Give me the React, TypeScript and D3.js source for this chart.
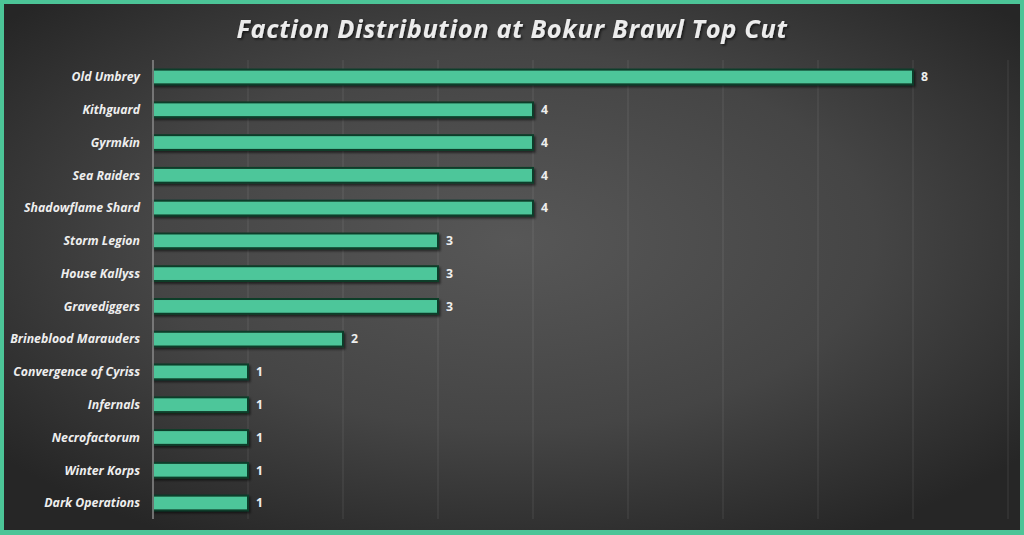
import React from "react";
import * as d3 from "d3";

const categories = [
  "Old Umbrey",
  "Kithguard",
  "Gyrmkin",
  "Sea Raiders",
  "Shadowflame Shard",
  "Storm Legion",
  "House Kallyss",
  "Gravediggers",
  "Brineblood Marauders",
  "Convergence of Cyriss",
  "Infernals",
  "Necrofactorum",
  "Winter Korps",
  "Dark Operations",
];
const counts = [8, 4, 4, 4, 4, 3, 3, 3, 2, 1, 1, 1, 1, 1];
const gridTicks = [0, 1, 2, 3, 4, 5, 6, 7, 8, 9];
const title = "Faction Distribution at Bokur Brawl Top Cut";

const W = 1024;
const H = 535;

export default function App() {
  const x = d3.scaleLinear().domain([0, 9]).range([153, 1008]);
  const y = d3
    .scaleBand<string>()
    .domain(categories)
    .range([60.6, 519.4])
    .paddingInner(0.55)
    .paddingOuter(0.275);
  const bh = y.bandwidth();
  return (
    <svg
      width={W}
      height={H}
      style={{ position: "absolute", left: 0, top: 0, display: "block" }}
      fontFamily="'Open Sans', 'Noto Sans', sans-serif"
    >
      <defs>
        <radialGradient id="bg" cx="50%" cy="45%" r="65%">
          <stop offset="0%" stopColor="#575757" />
          <stop offset="55%" stopColor="#454545" />
          <stop offset="100%" stopColor="#262626" />
        </radialGradient>
        <filter id="sh" x="-10%" y="-50%" width="120%" height="200%">
          <feDropShadow dx="1.5" dy="2" stdDeviation="1.2" floodColor="#000" floodOpacity="0.55" />
        </filter>
        <filter id="tsh" x="-10%" y="-50%" width="120%" height="200%">
          <feDropShadow dx="1.5" dy="1.5" stdDeviation="1" floodColor="#000" floodOpacity="0.6" />
        </filter>
      </defs>
      <rect x={0} y={0} width={W} height={H} fill="#4cc497" />
      <rect x={4} y={4} width={W - 8} height={H - 9} fill="url(#bg)" />
      <text
        x={512}
        y={38}
        textAnchor="middle"
        fontSize={25.3}
        fontWeight={700}
        fontStyle="italic"
        fill="#ececec"
        letterSpacing={0.7}
        filter="url(#tsh)"
      >
        {title}
      </text>
      {gridTicks.slice(1).map((t) => (
        <line key={t} x1={x(t)} x2={x(t)} y1={60} y2={519} stroke="#ffffff" strokeOpacity={0.1} strokeWidth={1} />
      ))}
      {categories.map((c, i) => {
        const y0 = y(c)!;
        const v = counts[i];
        return (
          <g key={c}>
            <rect
              x={x(0)}
              y={y0}
              width={x(v) - x(0)}
              height={bh}
              fill="#4ec69a"
              stroke="#0e3d29"
              strokeWidth={2}
              filter="url(#sh)"
            />
            <text
              x={140}
              y={y0 + bh / 2}
              dy="0.35em"
              textAnchor="end"
              fontSize={12.3}
              fontWeight={700}
              fontStyle="italic"
              fill="#eeeeee"
            >
              {c}
            </text>
            <text
              x={x(v) + 8}
              y={y0 + bh / 2}
              dy="0.35em"
              fontSize={12.3}
              fontWeight={700}
              fill="#eeeeee"
            >
              {v}
            </text>
          </g>
        );
      })}
      <line x1={x(0)} x2={x(0)} y1={60} y2={519} stroke="#8a8a8a" strokeWidth={1.5} />
    </svg>
  );
}
